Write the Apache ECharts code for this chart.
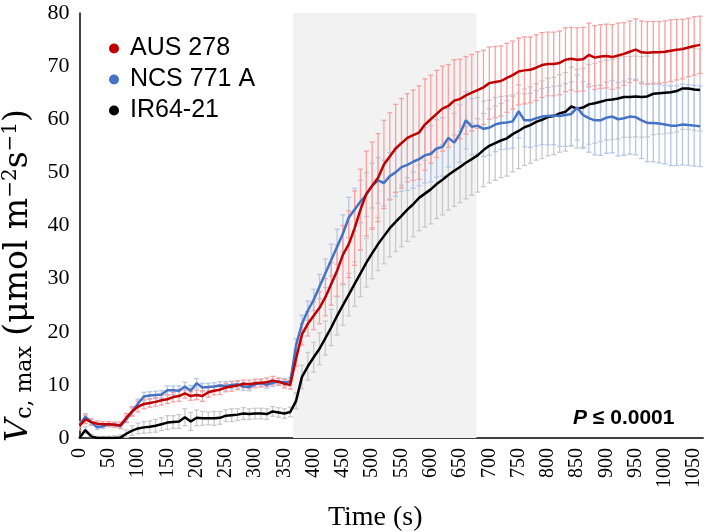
<!DOCTYPE html>
<html>
<head>
<meta charset="utf-8">
<script src="https://cdn.jsdelivr.net/npm/echarts@6/dist/echarts.min.js"></script>
<style>html,body{margin:0;padding:0;background:#fff;}#c{width:709px;height:532px;}</style>
</head>
<body>
<div id="c"></div>
<script>
// Time points (s)
const times = [0,10,20,30,40,50,60,70,80,90,100,110,120,130,140,150,160,170,180,190,200,210,220,230,240,250,260,270,280,290,300,310,320,330,340,350,360,370,380,390,400,410,420,430,440,450,460,470,480,490,500,510,520,530,540,550,560,570,580,590,600,610,620,630,640,650,660,670,680,690,700,710,720,730,740,750,760,770,780,790,800,810,820,830,840,850,860,870,880,890,900,910,920,930,940,950,960,970,980,990,1000,1010,1020,1030,1040,1050,1060];

const seriesNames = ['AUS 278', 'NCS 771 A', 'IR64-21'];

// AUS 278 mean
const aus = [2.3,3.5,3.0,2.7,2.6,2.6,2.5,2.4,3.8,5.0,
  5.9,6.4,6.6,6.8,7.1,7.3,7.7,7.9,8.4,7.9,
  8.1,7.9,8.6,8.9,9.1,9.5,9.7,9.9,10.2,10.1,
  10.3,10.4,10.5,10.8,10.6,10.2,10.0,15.0,19.5,21.5,
  23.0,24.5,26.5,29.0,31.5,34.5,36.5,39.5,43.0,46.0,
  47.5,49.0,51.5,53.0,54.5,55.5,56.5,57.0,57.5,59.0,
  60.0,61.0,62.0,62.5,63.5,63.8,64.5,65.0,65.5,66.0,
  66.8,67.0,67.2,67.8,68.3,69.0,69.2,69.3,69.7,70.2,
  70.4,70.4,70.6,71.2,71.4,71.2,71.3,72.1,71.6,71.8,
  71.9,71.7,72.0,72.3,72.7,73.1,72.6,72.5,72.6,72.6,
  72.7,72.9,73.1,73.2,73.5,73.8,74.0];
const ausErr = [0.8,0.8,0.6,0.5,0.5,0.5,0.5,0.6,0.8,0.9,
  1.0,0.9,0.8,0.8,0.9,0.8,0.9,1.0,0.9,0.8,
  0.9,1.0,0.9,0.8,0.9,0.8,0.9,0.8,0.7,0.8,
  0.8,0.7,0.8,0.8,0.7,0.8,0.8,1.5,2.0,2.3,
  2.6,3.0,3.5,4.0,4.8,5.5,6.3,7.0,7.6,8.0,
  8.2,8.3,8.3,8.2,8.3,8.4,8.3,8.5,8.8,8.6,
  8.3,8.2,8.0,7.8,7.7,7.5,7.3,7.2,7.2,7.0,
  6.8,6.7,6.6,6.5,6.4,6.3,6.3,6.2,6.2,6.1,
  6.0,6.0,6.0,6.0,5.9,6.0,6.0,6.0,6.0,6.0,
  6.0,6.1,6.1,5.9,5.8,5.8,5.9,5.9,5.8,5.8,
  5.8,5.8,5.7,5.6,5.5,5.5,5.4];

// NCS 771 A mean
const ncs = [2.5,4.0,3.0,2.0,2.2,2.6,2.5,2.2,3.5,5.0,
  6.5,7.8,8.0,8.1,8.2,9.0,9.0,8.9,9.7,8.9,
  10.3,9.5,9.6,9.7,9.9,9.8,10.0,10.1,9.7,9.6,
  10.1,10.3,10.0,10.4,10.6,10.5,10.6,17.5,21.5,24.0,
  26.0,28.5,31.0,33.5,36.0,38.5,41.5,43.0,44.5,45.8,
  47.5,48.5,48.0,49.3,50.0,51.0,51.4,52.0,52.5,53.2,
  53.5,54.5,54.8,56.5,55.6,57.3,59.8,58.6,58.8,58.2,
  58.4,59.0,59.3,59.4,59.6,61.5,59.8,59.8,60.2,60.5,
  60.6,60.7,60.6,60.8,61.0,62.2,60.8,60.2,59.8,59.8,
  60.3,60.5,60.0,60.2,60.5,60.4,59.8,59.3,59.3,59.2,
  59.0,58.8,58.8,59.0,58.9,58.8,58.7];
const ncsErr = [0.5,0.6,0.5,0.4,0.4,0.4,0.4,0.4,0.6,0.7,
  0.8,0.8,0.7,0.7,0.7,0.8,0.8,0.9,0.8,1.0,
  0.9,0.8,0.7,0.7,0.7,0.8,0.7,0.7,0.7,0.7,
  0.6,0.7,0.6,0.7,0.6,0.7,0.8,1.2,1.6,1.8,
  2.0,2.3,2.7,3.0,3.3,3.5,3.8,4.0,4.0,4.1,
  4.2,4.3,4.3,4.4,4.5,4.6,4.8,5.0,5.0,5.2,
  5.3,5.4,5.5,5.5,5.5,5.4,5.4,5.3,5.3,5.2,
  5.2,5.1,5.0,5.0,5.0,5.0,5.0,5.1,5.2,5.3,
  5.4,5.5,5.7,5.9,6.0,6.1,6.3,6.4,6.5,6.6,
  6.7,6.8,6.9,7.0,7.1,7.1,7.2,7.3,7.3,7.4,
  7.4,7.5,7.5,7.6,7.6,7.6,7.6];

// IR64-21 mean
const ir = [0,1.5,0.3,0,0,0,0,0.1,0.8,1.4,
  1.8,2.0,2.1,2.3,2.6,2.9,3.0,3.1,3.9,3.1,
  3.8,3.7,3.7,3.7,3.8,4.2,4.3,4.4,4.6,4.5,
  4.6,4.6,4.5,5.0,4.8,4.6,4.9,7.0,11.5,13.5,
  15.2,16.8,18.8,20.8,23.0,25.0,27.0,29.0,31.0,33.0,
  34.8,36.5,38.0,39.5,40.7,41.8,43.0,44.0,45.2,46.0,
  46.8,47.8,48.6,49.5,50.3,51.0,51.8,52.5,53.2,54.2,
  55.0,55.5,56.0,56.4,57.2,57.8,58.5,58.9,59.5,59.9,
  60.4,60.6,61.1,61.4,62.4,62.0,62.2,62.8,63.0,63.3,
  63.6,63.7,63.9,64.2,64.2,64.3,64.2,64.3,64.8,64.9,
  65.0,65.1,65.3,65.8,65.8,65.6,65.5];
const irErr = [0.3,0.6,0.4,0.3,0.3,0.3,0.4,0.5,0.7,0.9,
  1.0,1.1,1.1,1.2,1.2,1.3,1.2,1.3,1.6,1.7,
  1.5,1.3,1.2,1.3,1.2,1.1,1.2,1.1,1.1,1.0,
  1.0,1.0,1.0,0.9,0.9,0.9,0.9,1.5,2.2,2.6,
  2.8,3.0,3.2,3.4,3.6,3.8,4.0,4.2,4.4,4.6,
  4.8,5.0,5.2,5.4,5.6,5.8,6.0,6.1,6.2,6.3,
  6.5,6.5,6.6,6.6,6.7,6.7,6.8,6.8,6.9,6.9,
  7.0,7.0,7.0,7.1,7.1,7.1,7.2,7.2,7.2,7.3,
  7.3,7.3,7.3,7.4,7.4,7.4,7.4,7.5,7.5,7.5,
  7.5,7.5,7.6,7.6,7.6,7.6,7.6,7.6,7.7,7.7,
  7.7,7.7,7.7,7.7,7.7,7.7,7.7];

// Light-period shading (s)
const shadeStart = 365;
const shadeEnd = 678;
const pLabel = 'P';
const pText = ' ≤ 0.0001';

const lineColors = ['#C00000', '#4472C4', '#000000'];
const errColors = ['#F7A1A1', '#B4C7E7', '#C9C9C9'];

function pairs(vals) { return times.map((t, i) => [t, vals[i]]); }
function triples(vals, errs) { return times.map((t, i) => [t, vals[i], errs[i]]); }

function errRenderer(color) {
  return function (params, api) {
    const x = api.value(0), y = api.value(1), e = api.value(2);
    const hi = api.coord([x, y + e]);
    const lo = api.coord([x, y - e]);
    const h = 2.5;
    const st = { stroke: color, lineWidth: 1.3 };
    return {
      type: 'group',
      children: [
        { type: 'line', shape: { x1: hi[0], y1: hi[1], x2: lo[0], y2: lo[1] }, style: st },
        { type: 'line', shape: { x1: hi[0] - h, y1: hi[1], x2: hi[0] + h, y2: hi[1] }, style: st },
        { type: 'line', shape: { x1: lo[0] - h, y1: lo[1], x2: lo[0] + h, y2: lo[1] }, style: st }
      ]
    };
  };
}

const chart = echarts.init(document.getElementById('c'), null, { renderer: 'canvas' });
const serif = 'Liberation Serif';
const mathSerif = 'DejaVu Serif';
const sans = 'Liberation Sans';

chart.setOption({
  animation: false,
  backgroundColor: '#ffffff',
  grid: { left: 79.5, right: 6, top: 13, bottom: 94, containLabel: false, outerBoundsMode: 'none' },
  title: {
    text: '{p|' + pLabel + '}{t|' + pText + '}',
    left: 568, top: 403,
    textStyle: {
      rich: {
        p: { fontFamily: sans, fontWeight: 'bold', fontStyle: 'italic', fontSize: 21, color: '#000' },
        t: { fontFamily: sans, fontWeight: 'bold', fontSize: 21, color: '#000' }
      }
    }
  },
  legend: {
    data: seriesNames,
    orient: 'vertical',
    left: 104, top: 31,
    itemWidth: 10, itemHeight: 10, itemGap: 6,
    icon: 'circle',
    textStyle: { fontFamily: sans, fontSize: 25, color: '#000', padding: [0, 0, 0, 6] }
  },
  xAxis: {
    type: 'value', min: 0, max: 1065, interval: 50,
    name: 'Time (s)',
    nameLocation: 'middle', nameGap: 66,
    nameTextStyle: { fontFamily: serif, fontSize: 28, color: '#000', padding: [0, 32, 0, 0] },
    axisLine: { show: true, onZero: false, lineStyle: { color: '#404040', width: 2 } },
    axisTick: { show: false },
    splitLine: { show: false },
    axisLabel: {
      rotate: 90, fontFamily: serif, fontSize: 20, color: '#000', margin: 10,
      showMaxLabel: false, hideOverlap: false,
      formatter: function (v) { return String(v); }
    }
  },
  yAxis: {
    type: 'value', min: 0, max: 80, interval: 10,
    name: '{v|V}{sub|c, max}{n| (μmol m}{sup|−2}{n|s}{sup|−1}{n|)}',
    nameLocation: 'middle', nameGap: 33, nameRotate: 90,
    nameTextStyle: {
      padding: [0, 100, 0, 0],
      rich: {
        v: { fontFamily: mathSerif, fontSize: 32, fontStyle: 'italic', color: '#000', lineHeight: 36 },
        sub: { fontFamily: mathSerif, fontSize: 22, color: '#000', verticalAlign: 'bottom', lineHeight: 36 },
        n: { fontFamily: mathSerif, fontSize: 33, color: '#000', lineHeight: 36 },
        sup: { fontFamily: mathSerif, fontSize: 20, color: '#000', verticalAlign: 'top', lineHeight: 36 }
      }
    },
    axisLine: { show: true, lineStyle: { color: '#000', width: 1.5 } },
    axisTick: { show: false },
    splitLine: { show: false },
    axisLabel: { fontFamily: serif, fontSize: 22, color: '#000', margin: 10 }
  },
  series: [
    {
      name: 'shade', type: 'line', data: [], z: -1, silent: true, clip: false,
      markArea: {
        silent: true,
        itemStyle: { color: '#F2F2F2' },
        data: [[{ xAxis: shadeStart, yAxis: -0.8 }, { xAxis: shadeEnd, yAxis: 81.8 }]]
      }
    },
    { name: 'err-ir', type: 'custom', renderItem: errRenderer(errColors[2]), data: triples(ir, irErr), encode: { x: 0, y: 1 }, clip: true, silent: true },
    { name: 'err-ncs', type: 'custom', renderItem: errRenderer(errColors[1]), data: triples(ncs, ncsErr), encode: { x: 0, y: 1 }, clip: true, silent: true },
    { name: 'err-aus', type: 'custom', renderItem: errRenderer(errColors[0]), data: triples(aus, ausErr), encode: { x: 0, y: 1 }, clip: true, silent: true },
    { name: seriesNames[2], type: 'line', data: pairs(ir), showSymbol: false, color: lineColors[2], lineStyle: { width: 2.5, color: lineColors[2] } },
    { name: seriesNames[1], type: 'line', data: pairs(ncs), showSymbol: false, color: lineColors[1], lineStyle: { width: 2.5, color: lineColors[1] } },
    { name: seriesNames[0], type: 'line', data: pairs(aus), showSymbol: false, color: lineColors[0], lineStyle: { width: 2.5, color: lineColors[0] } }
  ]
});
</script>
</body>
</html>
